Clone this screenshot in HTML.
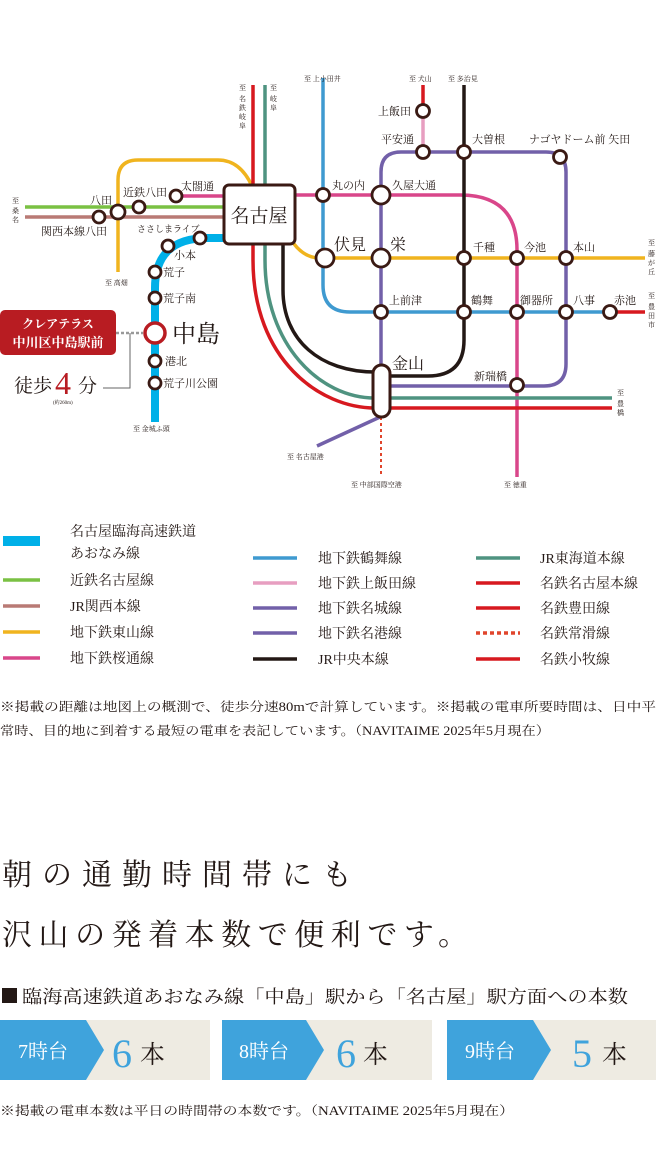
<!DOCTYPE html>
<html><head><meta charset="utf-8"><style>
html,body{margin:0;padding:0;background:#fff;}
svg{display:block;}
text{font-family:"Liberation Serif","Noto Serif CJK SC",serif;fill:#231815;}
.s{font-size:11px;}
.t{font-size:7px;}
</style></head><body>
<svg width="656" height="1176" viewBox="0 0 656 1176" xmlns="http://www.w3.org/2000/svg">
<g fill="none" stroke-linecap="butt">
<!-- lines -->
<path d="M25,207H224" stroke="#7ac143" stroke-width="3.5"/>
<path d="M25,217H224" stroke="#b97a75" stroke-width="3.5"/>
<path d="M118,272V180Q118,160 138,160H218Q240,160 252,186" stroke="#f0b41e" stroke-width="3.5"/>
<path d="M290,238Q302,258 320,258H645" stroke="#f0b41e" stroke-width="3.5"/>
<path d="M176,196H224" stroke="#d9468a" stroke-width="3.5"/>
<path d="M295,195H460Q517,195 517,250V477" stroke="#d9468a" stroke-width="3.5"/>
<path d="M323,78V285Q323,312 350,312H610" stroke="#3f9ad0" stroke-width="3.5"/>
<path d="M610,312H645" stroke="#d7191f" stroke-width="3.5"/>
<path d="M423,104V152" stroke="#e79ec0" stroke-width="3.5"/>
<path d="M423,85V104" stroke="#d7191f" stroke-width="3.5"/>
<path d="M381,370V172Q381,152 401,152H546Q566,152 566,172V364Q566,386 544,386H390" stroke="#7260a9" stroke-width="3.5"/>
<path d="M380,417L317,446" stroke="#7260a9" stroke-width="3.5"/>
<path d="M464,85V340Q464,376 428,376H390" stroke="#231815" stroke-width="3.5"/>
<path d="M283,244V290C283,340 320,372 375,372" stroke="#231815" stroke-width="3.5"/>
<path d="M265,85V260C265,345 320,398 375,398H612" stroke="#4f9380" stroke-width="3.5"/>
<path d="M253,85V260C253,360 320,408 375,408H612" stroke="#d7191f" stroke-width="3.5"/>
<path d="M381,417V476" stroke="#e0452c" stroke-width="2" stroke-dasharray="3,3"/>
<path d="M224,238H208Q155,238 155,288V422" stroke="#00b0e8" stroke-width="8"/>
<path d="M116,333H143" stroke="#999" stroke-width="2.5" stroke-dasharray="3,2"/>
<path d="M130,333V388H103" stroke="#666" stroke-width="1"/>
</g>
<!-- boxes -->
<rect x="224" y="185" width="71" height="59" rx="5" fill="#fff" stroke="#3a1a14" stroke-width="3"/>
<rect x="373" y="365" width="17" height="52" rx="8.5" fill="#fff" stroke="#3a1a14" stroke-width="3"/>
<!-- stations -->
<g fill="#fff" stroke="#3a1a14" stroke-width="2.8">
<circle cx="118" cy="212" r="7"/><circle cx="139" cy="207" r="6"/><circle cx="99" cy="217" r="6"/><circle cx="176" cy="196" r="6"/>
<circle cx="200" cy="238" r="6"/><circle cx="168" cy="246" r="6"/><circle cx="155" cy="272" r="6"/><circle cx="155" cy="298" r="6"/>
<circle cx="155" cy="361" r="6"/><circle cx="155" cy="383" r="6"/>
<circle cx="323" cy="195" r="6.5"/><circle cx="381" cy="195" r="9"/><circle cx="325" cy="258" r="9"/><circle cx="381" cy="258" r="9"/>
<circle cx="423" cy="111" r="6.5"/><circle cx="423" cy="152" r="6.5"/><circle cx="464" cy="152" r="6.5"/><circle cx="560" cy="157" r="6.5"/>
<circle cx="464" cy="258" r="6.5"/><circle cx="517" cy="258" r="6.5"/><circle cx="566" cy="258" r="6.5"/>
<circle cx="381" cy="312" r="6.5"/><circle cx="464" cy="312" r="6.5"/><circle cx="517" cy="312" r="6.5"/><circle cx="566" cy="312" r="6.5"/><circle cx="610" cy="312" r="6.5"/>
<circle cx="517" cy="385" r="6.5"/>
</g>
<circle cx="155" cy="333" r="10" fill="#fff" stroke="#b81c22" stroke-width="3.5"/>
<!-- labels -->
<text x="259" y="222" font-size="19" text-anchor="middle">名古屋</text>
<text x="90" y="204" font-size="11">八田</text>
<text x="123" y="196" class="s">近鉄八田</text>
<text x="181" y="190" class="s">太閤通</text>
<text x="41" y="235" class="s">関西本線八田</text>
<text x="137" y="232" font-size="9">ささしまライブ</text>
<text x="174" y="259" class="s">小本</text>
<text x="163" y="276" class="s">荒子</text>
<text x="163" y="302" class="s">荒子南</text>
<text x="172" y="342" font-size="24">中島</text>
<text x="165" y="365" class="s">港北</text>
<text x="163" y="387" class="s">荒子川公園</text>
<text x="105" y="285" class="t">至 高畑</text>
<text x="133" y="431" class="t">至 金城ふ頭</text>
<rect x="0" y="310" width="116" height="45" rx="5" fill="#b81c22"/>
<text x="58" y="328" font-size="12" text-anchor="middle" style="fill:#fff;font-weight:bold">クレアテラス</text>
<text x="58" y="347" font-size="13" text-anchor="middle" style="fill:#fff;font-weight:bold">中川区中島駅前</text>
<text x="14" y="392" font-size="19">徒歩</text>
<text x="55" y="394" font-size="32" style="fill:#b81c22">4</text>
<text x="78" y="392" font-size="19">分</text>
<text x="53" y="404" font-size="5">(約260m)</text>
<!-- terminal labels left -->
<text x="12" y="203" class="t">至</text><text x="12" y="213" class="t">桑</text><text x="12" y="222" class="t">名</text>
<text x="239" y="90" class="t">至</text><text x="239" y="101" class="t">名</text><text x="239" y="110" class="t">鉄</text><text x="239" y="119" class="t">岐</text><text x="239" y="128" class="t">阜</text>
<text x="270" y="90" class="t">至</text><text x="270" y="101" class="t">岐</text><text x="270" y="110" class="t">阜</text>
<!-- right labels -->
<text x="304" y="81" class="t">至 上小田井</text>
<text x="409" y="81" class="t">至 犬山</text>
<text x="448" y="81" class="t">至 多治見</text>
<text x="378" y="115" class="s">上飯田</text>
<text x="381" y="143" class="s">平安通</text>
<text x="472" y="143" class="s">大曽根</text>
<text x="529" y="143" class="s">ナゴヤドーム前 矢田</text>
<text x="332" y="189" class="s">丸の内</text>
<text x="392" y="189" class="s">久屋大通</text>
<text x="334" y="250" font-size="16">伏見</text>
<text x="390" y="250" font-size="16">栄</text>
<text x="473" y="251" class="s">千種</text>
<text x="524" y="251" class="s">今池</text>
<text x="573" y="251" class="s">本山</text>
<text x="389" y="304" class="s">上前津</text>
<text x="471" y="304" class="s">鶴舞</text>
<text x="520" y="304" class="s">御器所</text>
<text x="573" y="304" class="s">八事</text>
<text x="614" y="304" class="s">赤池</text>
<text x="392" y="369" font-size="16">金山</text>
<text x="474" y="380" class="s">新瑞橋</text>
<text x="287" y="459" class="t">至 名古屋港</text>
<text x="351" y="487" class="t">至 中部国際空港</text>
<text x="504" y="487" class="t">至 徳重</text>
<text x="648" y="245" class="t">至</text><text x="648" y="256" class="t">藤</text><text x="648" y="265" class="t">が</text><text x="648" y="274" class="t">丘</text>
<text x="648" y="298" class="t">至</text><text x="648" y="309" class="t">豊</text><text x="648" y="318" class="t">田</text><text x="648" y="327" class="t">市</text>
<text x="617" y="395" class="t">至</text><text x="617" y="406" class="t">豊</text><text x="617" y="415" class="t">橋</text>
<!-- legend -->
<rect x="3" y="536" width="37" height="10" fill="#00b0e8"/>
<text x="70" y="536" font-size="14">名古屋臨海高速鉄道</text>
<text x="70" y="558" font-size="14">あおなみ線</text>
<g stroke-width="3.5">
<path d="M3,580H40" stroke="#7ac143"/><path d="M3,606H40" stroke="#b97a75"/><path d="M3,632H40" stroke="#f0b41e"/><path d="M3,658H40" stroke="#d9468a"/>
<path d="M253,558H297" stroke="#3f9ad0"/><path d="M253,583H297" stroke="#e79ec0"/><path d="M253,608H297" stroke="#7260a9"/><path d="M253,633H297" stroke="#7260a9"/><path d="M253,659H297" stroke="#231815"/>
<path d="M476,558H520" stroke="#4f9380"/><path d="M476,583H520" stroke="#d7191f"/><path d="M476,608H520" stroke="#d7191f"/><path d="M476,633H520" stroke="#e0452c" stroke-dasharray="4,3"/><path d="M476,659H520" stroke="#d7191f"/>
</g>
<g font-size="14">
<text x="70" y="585">近鉄名古屋線</text><text x="70" y="611">JR関西本線</text><text x="70" y="637">地下鉄東山線</text><text x="70" y="663">地下鉄桜通線</text>
<text x="318" y="563">地下鉄鶴舞線</text><text x="318" y="588">地下鉄上飯田線</text><text x="318" y="613">地下鉄名城線</text><text x="318" y="638">地下鉄名港線</text><text x="318" y="664">JR中央本線</text>
<text x="540" y="563">JR東海道本線</text><text x="540" y="588">名鉄名古屋本線</text><text x="540" y="613">名鉄豊田線</text><text x="540" y="638">名鉄常滑線</text><text x="540" y="664">名鉄小牧線</text>
</g>
<text x="0" y="711" font-size="12.5" textLength="656" lengthAdjust="spacingAndGlyphs">※掲載の距離は地図上の概測で、徒歩分速80mで計算しています。※掲載の電車所要時間は、日中平</text>
<text x="0" y="735" font-size="12.5" textLength="550" lengthAdjust="spacingAndGlyphs">常時、目的地に到着する最短の電車を表記しています。（NAVITAIME 2025年5月現在）</text>
<!-- headline -->
<text x="2" y="885" font-size="30" textLength="350" lengthAdjust="spacing">朝の通勤時間帯にも</text>
<text x="2" y="945" font-size="30" textLength="466" lengthAdjust="spacing">沢山の発着本数で便利です。</text>
<rect x="2" y="988" width="15" height="15" fill="#231815"/>
<text x="22" y="1003" font-size="18" textLength="606" lengthAdjust="spacingAndGlyphs">臨海高速鉄道あおなみ線「中島」駅から「名古屋」駅方面への本数</text>
<!-- count boxes -->
<rect x="0" y="1020" width="210" height="60" fill="#eeebe2"/>
<polygon points="0,1020 86,1020 104,1050 86,1080 0,1080" fill="#3fa3dc"/>
<text x="18" y="1058" font-size="20" style="fill:#fff">7時台</text>
<text x="112" y="1067" font-size="40" style="fill:#3fa3dc">6</text>
<text x="140" y="1063" font-size="25">本</text>
<rect x="222" y="1020" width="210" height="60" fill="#eeebe2"/>
<polygon points="222,1020 306,1020 324,1050 306,1080 222,1080" fill="#3fa3dc"/>
<text x="239" y="1058" font-size="20" style="fill:#fff">8時台</text>
<text x="336" y="1067" font-size="40" style="fill:#3fa3dc">6</text>
<text x="363" y="1063" font-size="25">本</text>
<rect x="447" y="1020" width="209" height="60" fill="#eeebe2"/>
<polygon points="447,1020 533,1020 551,1050 533,1080 447,1080" fill="#3fa3dc"/>
<text x="465" y="1058" font-size="20" style="fill:#fff">9時台</text>
<text x="572" y="1067" font-size="40" style="fill:#3fa3dc">5</text>
<text x="602" y="1063" font-size="25">本</text>
<text x="0" y="1115" font-size="12.5" textLength="514" lengthAdjust="spacingAndGlyphs">※掲載の電車本数は平日の時間帯の本数です。（NAVITAIME 2025年5月現在）</text>
</svg>
</body></html>
